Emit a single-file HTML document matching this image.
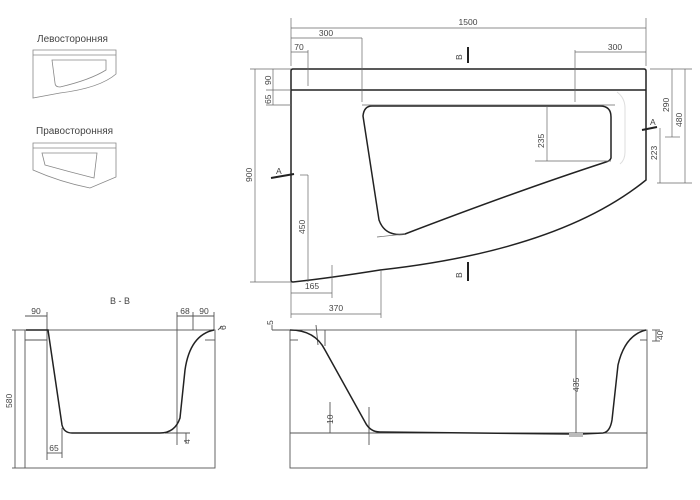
<!DOCTYPE html>
<html><head><meta charset="utf-8"><style>
html,body{margin:0;padding:0;background:#fff;width:700px;height:500px;overflow:hidden}
svg{display:block}
text{font-family:"Liberation Sans",sans-serif;fill:#444}
</style></head><body>
<svg width="700" height="500" viewBox="0 0 700 500">
<g fill="none" stroke="#888" stroke-width="0.8">
<!-- thumbnails -->
<path d="M33 50 L116 50 L116 74 Q100 88 60 93 L33 98 Z"/><line x1="33" y1="55" x2="116" y2="55"/>
<path d="M52 60 L106 60 L106 70 Q90 80 60 87 Q55 87 55 83 Z"/>
<path d="M33 143 L116 143 L116 177 L90 188 Q60 182 33 170 Z"/><line x1="33" y1="148" x2="116" y2="148"/>
<path d="M42 153 L97 153 L94 178 Q70 172 45 165 Z"/>
</g>
<text x="37" y="42" font-size="10">Левосторонняя</text>
<text x="36" y="134" font-size="10">Правосторонняя</text>

<!-- plan -->
<g fill="none" stroke="#222" stroke-width="1.5">
<path d="M293 69 L644 69 Q646 69 646 71 L646 180 Q560 250 380 270 Q330 278 293 282 Q291 282 291 280 L291 71 Q291 69 293 69 Z"/>
<line x1="291" y1="90" x2="646" y2="90"/>
<path d="M372 106 L600 106 Q611 106 611 117 L611 158 Q610 161 606 162 Q520 190 405 234 Q385 237 379 220 L363 116 Q364 106 372 106 Z"/>
</g>
<path d="M617 92 Q625 98 625 108 L625 152 Q625 160 620 164" fill="none" stroke="#ddd" stroke-width="1"/>
<g stroke="#666" stroke-width="0.7" fill="none">
<line x1="291" y1="18" x2="291" y2="66"/><line x1="646" y1="18" x2="646" y2="66"/>
<line x1="291" y1="28" x2="646" y2="28"/>
<line x1="291" y1="38" x2="362" y2="38"/><line x1="362" y1="38" x2="362" y2="102"/>
<line x1="291" y1="52" x2="308" y2="52"/><line x1="308" y1="50" x2="308" y2="86"/>
<line x1="575" y1="52" x2="646" y2="52"/><line x1="575" y1="50" x2="575" y2="102"/>
<line x1="250" y1="69" x2="291" y2="69"/><line x1="250" y1="282" x2="291" y2="282"/>
<line x1="255" y1="69" x2="255" y2="282"/>
<line x1="273" y1="69" x2="273" y2="105"/><line x1="266" y1="90" x2="291" y2="90"/><line x1="266" y1="105" x2="291" y2="105"/>
<line x1="362" y1="105" x2="615" y2="105"/>
<line x1="547" y1="106" x2="547" y2="161"/><line x1="535" y1="161" x2="611" y2="161"/>
<line x1="650" y1="69" x2="692" y2="69"/><line x1="672" y1="69" x2="672" y2="137"/><line x1="665" y1="137" x2="680" y2="137"/>
<line x1="685" y1="69" x2="685" y2="183"/><line x1="657" y1="183" x2="692" y2="183"/>
<line x1="660" y1="128" x2="660" y2="183"/>
<line x1="300" y1="175" x2="308" y2="175"/><line x1="308" y1="175" x2="308" y2="282"/>
<line x1="377" y1="237" x2="405" y2="234"/>
<line x1="291" y1="293" x2="332" y2="293"/><line x1="332" y1="265" x2="332" y2="298"/><line x1="291" y1="282" x2="291" y2="318"/>
<line x1="291" y1="314" x2="381" y2="314"/><line x1="381" y1="270" x2="381" y2="318"/>
</g>
<g stroke="#222" stroke-width="2">
<line x1="468" y1="47" x2="468" y2="63"/><line x1="468" y1="262" x2="468" y2="281"/>
<line x1="271" y1="178" x2="294" y2="174"/><line x1="642" y1="130" x2="657" y2="127"/>
</g>
<g font-size="8.5">
<text x="468" y="25" text-anchor="middle">1500</text>
<text x="326" y="36" text-anchor="middle">300</text>
<text x="299" y="50" text-anchor="middle">70</text>
<text x="615" y="50" text-anchor="middle">300</text>
<text x="312" y="289" text-anchor="middle">165</text>
<text x="336" y="311" text-anchor="middle">370</text>
<text x="276" y="174">A</text><text x="650" y="125">A</text>
<text transform="translate(462,60) rotate(-90)">B</text>
<text transform="translate(462,278) rotate(-90)">B</text>
<text transform="translate(252,182) rotate(-90)">900</text>
<text transform="translate(271,85) rotate(-90)">90</text>
<text transform="translate(271,104) rotate(-90)">65</text>
<text transform="translate(305,234) rotate(-90)">450</text>
<text transform="translate(544,148) rotate(-90)">235</text>
<text transform="translate(669,112) rotate(-90)">290</text>
<text transform="translate(682,127) rotate(-90)">480</text>
<text transform="translate(657,160) rotate(-90)">223</text>
</g>

<!-- section B-B -->
<g fill="none" stroke="#555" stroke-width="0.9">
<rect x="25" y="330" width="190" height="138"/>
<line x1="25" y1="340" x2="47" y2="340"/><line x1="205" y1="340" x2="215" y2="340"/>
<line x1="12" y1="330" x2="25" y2="330"/><line x1="12" y1="468" x2="25" y2="468"/><line x1="15" y1="330" x2="15" y2="468"/>
<line x1="25" y1="316" x2="47" y2="316"/><line x1="47" y1="312" x2="47" y2="460"/>
<line x1="177" y1="316" x2="214" y2="316"/><line x1="177" y1="312" x2="177" y2="445"/><line x1="193" y1="312" x2="193" y2="330"/><line x1="214" y1="312" x2="214" y2="330"/>
<line x1="47" y1="453" x2="62" y2="453"/><line x1="62" y1="428" x2="62" y2="458"/>
<line x1="165" y1="433" x2="190" y2="433"/><line x1="186" y1="433" x2="186" y2="444"/>
<line x1="218" y1="330" x2="222" y2="326"/>
</g>
<path d="M26 330 L48 330 L62 425 Q64 433 72 433 L160 433 Q175 433 180 418 L185 370 Q190 335 214 330" fill="none" stroke="#222" stroke-width="1.5"/>
<g font-size="8.5">
<text x="120" y="304" text-anchor="middle" font-size="9">B - B</text>
<text x="36" y="314" text-anchor="middle">90</text>
<text x="185" y="314" text-anchor="middle">68</text>
<text x="204" y="314" text-anchor="middle">90</text>
<text x="54" y="451" text-anchor="middle">65</text>
<text transform="translate(12,408) rotate(-90)">580</text>
<text transform="translate(190,444) rotate(-90)">4</text>
<text transform="translate(226,330) rotate(-90)">6</text>
</g>

<!-- section A-A -->
<g fill="none" stroke="#555" stroke-width="0.9">
<rect x="290" y="330" width="357" height="138"/>
<line x1="290" y1="433" x2="647" y2="433"/>
<line x1="290" y1="340" x2="298" y2="340"/><line x1="640" y1="340" x2="647" y2="340"/>
<line x1="272" y1="330" x2="290" y2="330"/><line x1="272" y1="325" x2="272" y2="330"/>
<line x1="576" y1="330" x2="576" y2="433"/>
<line x1="330" y1="402" x2="330" y2="433"/><line x1="369" y1="407" x2="369" y2="445"/>
<line x1="316" y1="325" x2="318" y2="345"/><line x1="325" y1="330" x2="325" y2="346"/>
<line x1="652" y1="330" x2="660" y2="330"/><line x1="656" y1="330" x2="656" y2="341"/><line x1="652" y1="341" x2="660" y2="341"/>
</g>
<path d="M290 330 Q315 330 325 350 L365 422 Q370 432 380 432 L570 434 L582 434 L603 433 Q610 432 612 420 L618 365 Q625 335 646 330" fill="none" stroke="#222" stroke-width="1.5"/>
<rect x="569" y="433" width="14" height="4" fill="#bbb"/>
<g font-size="8.5">
<text transform="translate(579,392) rotate(-90)">435</text>
<text transform="translate(333,424) rotate(-90)">10</text>
<text transform="translate(273,325) rotate(-90)">5</text>
<text transform="translate(663,340) rotate(-90)">40</text>
</g>
</svg>
</body></html>
